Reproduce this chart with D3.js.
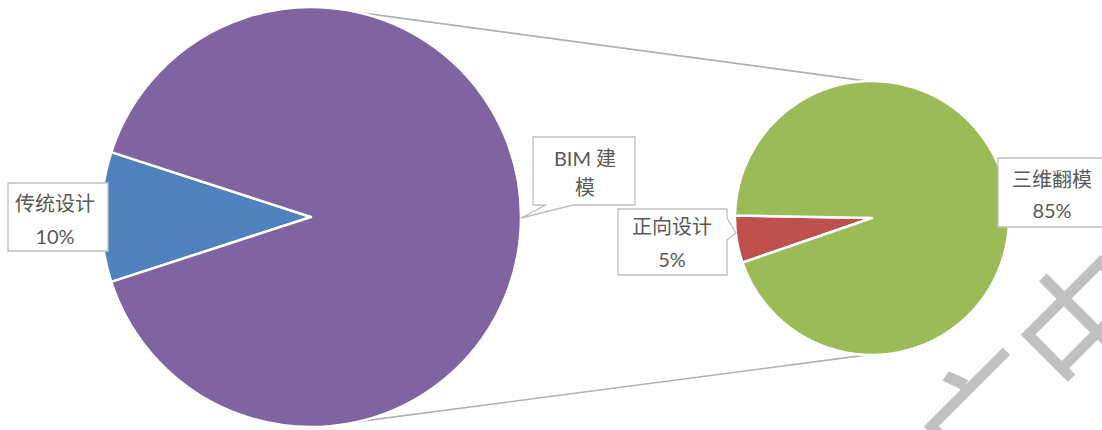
<!DOCTYPE html>
<html><head><meta charset="utf-8">
<script src="https://cdn.jsdelivr.net/npm/d3@7"></script>
<style>body{margin:0;background:#fff}svg{display:block}</style>
</head><body>
<svg id="c" width="1102" height="430"></svg>
<script>
// ---- data ----
const mainCategories = ["传统设计", "BIM 建模"];
const mainValues = [10, 90];
const subCategories = ["正向设计", "三维翻模"];
const subValues = [5, 85];
const watermarkText = ["广", "中"];

const mainColors = ["#4F81BD", "#8064A2"];
const subColors = ["#C0504D", "#9BBB59"];

const svg = d3.select("#c");
const deg = Math.PI / 180;

// ---- geometry ----
const big = {cx: 311, cy: 217, r: 210, start: 252};
const small = {cx: 872, cy: 218, r: 137, start: 251};

// connector lines (drawn first, behind)
const connAngles = [[-77, -92], [77, 92]];
svg.append("g").selectAll("line").data(connAngles).join("line")
  .attr("x1", d => big.cx + big.r * Math.cos(d[0] * deg))
  .attr("y1", d => big.cy + big.r * Math.sin(d[0] * deg))
  .attr("x2", d => small.cx + small.r * Math.cos(d[1] * deg))
  .attr("y2", d => small.cy + small.r * Math.sin(d[1] * deg))
  .attr("stroke", "#b0b0b0").attr("stroke-width", 1.6);

function drawPie(g, values, colors, cfg) {
  const pie = d3.pie().sort(null)
    .startAngle(cfg.start * deg).endAngle(cfg.start * deg + 2 * Math.PI);
  const arc = d3.arc().innerRadius(0).outerRadius(cfg.r);
  g.attr("transform", `translate(${cfg.cx},${cfg.cy})`)
    .selectAll("path").data(pie(values)).join("path")
    .attr("d", arc)
    .attr("fill", (d, i) => colors[i])
    .attr("stroke", "#fff").attr("stroke-width", 2.5).attr("stroke-linejoin", "round");
}
drawPie(svg.append("g"), mainValues, mainColors, big);
drawPie(svg.append("g"), subValues, subColors, small);

// ---- watermark ----
const wm = svg.append("g");
const wmCenters = [[984, 416], [1083, 317]];
wm.selectAll("text").data(watermarkText).join("text")
  .attr("transform", (d, i) => `translate(${wmCenters[i][0]},${wmCenters[i][1]}) rotate(-45)`)
  .attr("text-anchor", "middle").attr("dominant-baseline", "central")
  .attr("font-family", "Noto Sans CJK SC").attr("font-size", 140)
  .attr("font-weight", 400)
  .attr("fill", "#c0c0c0")
  .text(d => d);

// ---- callout labels ----
function callout(b) {
  const {x0, y0, x1, y1, ptr} = b;
  if (!ptr) return `M${x0},${y0}H${x1}V${y1}H${x0}Z`;
  if (ptr.side === "bottom")
    return `M${x0},${y0}H${x1}V${y1}H${ptr.b1}L${ptr.tx},${ptr.ty}L${ptr.b0},${y1}H${x0}Z`;
  if (ptr.side === "right")
    return `M${x0},${y0}H${x1}V${ptr.b0}L${ptr.tx},${ptr.ty}L${x1},${ptr.b1}V${y1}H${x0}Z`;
}

const labels = [
  {lines: [mainCategories[0], mainValues[0] + "%"], cx: 55, ys: [203, 236],
   box: {x0: 8, y0: 183, x1: 108, y1: 251}},
  {lines: [mainCategories[1].slice(0, 5), mainCategories[1].slice(5)], cx: 585, ys: [158, 187],
   box: {x0: 533, y0: 137, x1: 635, y1: 205, ptr: {side: "bottom", b0: 546, b1: 573, tx: 521, ty: 218}}},
  {lines: [subCategories[0], subValues[0] + "%"], cx: 672, ys: [226, 259],
   box: {x0: 618, y0: 209, x1: 727, y1: 275, ptr: {side: "right", b0: 218, b1: 240, tx: 736, ty: 233}}},
  {lines: [subCategories[1], subValues[1] + "%"], cx: 1052, ys: [179, 210],
   box: {x0: 998, y0: 158, x1: 1115, y1: 227}}
];

const lg = svg.append("g").selectAll("g").data(labels).join("g");
lg.append("path").attr("d", d => callout(d.box))
  .attr("fill", "#fff").attr("stroke", "#bfbfbf").attr("stroke-width", 1.3);
lg.each(function (d) {
  d3.select(this).selectAll("text").data(d.lines).join("text")
    .attr("x", d.cx).attr("y", (t, i) => d.ys[i])
    .attr("text-anchor", "middle").attr("dominant-baseline", "central")
    .attr("font-family", "Lato, 'Noto Sans CJK SC', sans-serif")
    .attr("font-size", 20)
    .attr("fill", "#595959")
    .text(t => t);
});
</script>
</body></html>
